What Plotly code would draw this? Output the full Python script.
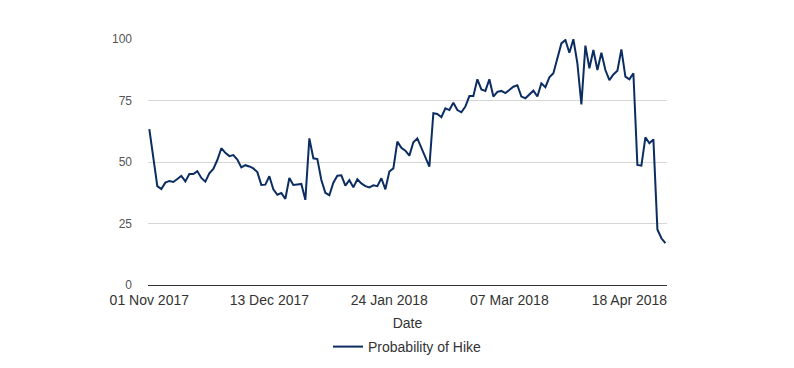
import pandas as pd
import plotly.graph_objects as go

# Business-day dates (category axis)
dates = [d.strftime("%Y-%m-%d") for d in pd.bdate_range("2017-11-01", "2018-05-01")]

probability_of_hike = [
    63.4, 51.5, 40.2, 39.0, 41.6, 42.3, 41.9, 43.1, 44.3, 42.1,
    45.1, 45.1, 46.3, 43.5, 42.0, 45.4, 47.2, 50.8, 55.6, 53.7,
    52.4, 52.8, 51.0, 47.8, 48.7, 48.2, 47.4, 45.9, 40.7, 40.8,
    44.2, 38.9, 36.7, 37.4, 35.0, 43.5, 40.7, 40.9, 41.1, 34.6,
    59.6, 51.5, 51.2, 42.7, 37.5, 36.5, 41.6, 44.4, 44.6, 40.4,
    42.6, 39.7, 43.0, 41.3, 40.2, 39.7, 40.5, 40.2, 43.4, 38.9,
    46.1, 47.4, 58.3, 55.8, 54.6, 52.6, 58.0, 59.6, 56.0, 52.2,
    48.1, 69.8, 69.5, 68.2, 71.8, 71.1, 74.1, 71.1, 70.2, 72.5,
    76.8, 76.8, 83.6, 79.5, 78.9, 83.6, 76.6, 78.5, 78.9, 78.0,
    79.3, 80.6, 81.2, 76.6, 75.9, 77.6, 79.0, 76.6, 82.0, 80.4,
    84.4, 86.1, 91.7, 98.2, 99.6, 94.4, 99.9, 90.1, 73.4, 97.3,
    88.1, 95.5, 87.4, 94.4, 87.4, 83.3, 85.6, 87.1, 95.8, 84.7,
    83.6, 86.1, 48.8, 48.5, 60.0, 57.6, 59.2, 22.6, 19.0, 17.0,
]

x_tick_dates = ["2017-11-01", "2017-12-13", "2018-01-24", "2018-03-07", "2018-04-18"]
x_tick_labels = ["01 Nov 2017", "13 Dec 2017", "24 Jan 2018", "07 Mar 2018", "18 Apr 2018"]
y_ticks = [0, 25, 50, 75, 100]

W, H = 786, 360  # page body has an 8px margin

fig = go.Figure()
fig.add_trace(go.Scatter(
    x=dates, y=probability_of_hike, mode="lines",
    name="Probability of Hike",
    line=dict(color="#0b2d62", width=2),
))

fig.update_layout(
    width=W, height=H,
    margin=dict(l=140, r=127, t=31, b=83, autoexpand=False),
    paper_bgcolor="white", plot_bgcolor="white",
    font=dict(family="Liberation Sans, Arial, sans-serif", size=14, color="#333333"),
    showlegend=True,
    legend=dict(orientation="h", x=0.5, xanchor="center", xref="paper",
                y=1 - 339 / H, yanchor="middle", yref="container",
                font=dict(size=14, color="#333333")),
)
fig.update_xaxes(
    type="category", range=[-0.33, 129.4], automargin=False,
    tickvals=x_tick_dates, ticktext=x_tick_labels,
    showgrid=False, showline=True, linecolor="#333333", linewidth=1,
    ticks="", ticklabelstandoff=2,
    tickfont=dict(size=14, color="#333333"),
    title=dict(text="Date", font=dict(size=14, color="#333333"), standoff=12),
    zeroline=False,
)
fig.update_yaxes(
    range=[0, 100], tickvals=y_ticks, automargin=False,
    showgrid=True, gridcolor="#d6d6d6", gridwidth=1,
    zeroline=False, showline=False, ticks="",
    ticklabelstandoff=15,
    tickfont=dict(size=12, color="#555555"),
)

fig.write_html("out.html")
